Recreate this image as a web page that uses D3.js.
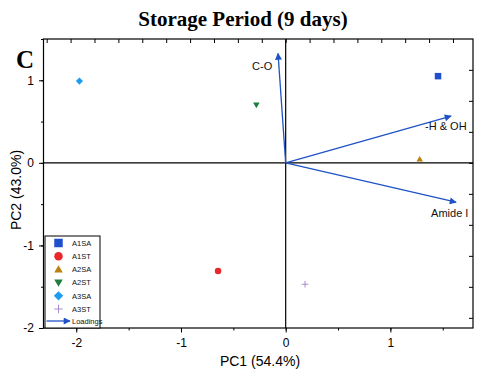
<!DOCTYPE html>
<html>
<head>
<meta charset="utf-8">
<script src="https://cdn.jsdelivr.net/npm/d3@7"></script>
<style>
  body { margin: 0; background: #fff; }
  svg { display: block; }
</style>
</head>
<body>
<div class="chart"></div>
<script>
// DATA ------------------------------
const sampleNames = ["A1SA", "A1ST", "A2SA", "A2ST", "A3SA", "A3ST"];
const pc1Scores = [1.455, -0.646, 1.28, -0.28, -1.97, 0.185];
const pc2Scores = [1.05, -1.31, 0.045, 0.70, 0.99, -1.47];
const sampleColors = ["#1f4fcc", "#e8282b", "#b8820c", "#1c7f3c", "#1e9cf2", "#a88ccc"];
const sampleShapes = ["square", "circle", "triangle", "triangleDown", "diamond", "plus"];

const loadingNames = ["C-O", "-H & OH", "Amide I"];
const loadingPC1 = [-0.032, 0.692, 0.713];
const loadingPC2 = [0.353, 0.151, -0.127];

const xTicks = [-2, -1, 0, 1];
const yTicks = [-2, -1, 0, 1];

// CHART INIT ------------------------
const W = 480, H = 373;
const plot = {left: 43.5, right: 473, top: 39, bottom: 328};

const svg = d3.select(".chart").append("svg")
    .attr("width", W).attr("height", H);

const xScale = d3.scaleLinear().domain([-2.313, 1.789]).range([plot.left, plot.right]);
const yScale = d3.scaleLinear().domain([-2, 1.5]).range([plot.bottom, plot.top]);
// loadings are drawn on their own (top / right) axes
const xLoad = d3.scaleLinear().domain([0, 0.1]).range([xScale(0), xScale(0) + 23.9]);
const yLoad = d3.scaleLinear().domain([0, 0.1]).range([yScale(0), yScale(0) - 31]);

const axisFont = "Liberation Sans, Arial, sans-serif";
const fmt = d => String(d); // plain hyphen minus like the original

// bottom axis
const halfX = d3.range(-2, 2, 0.5);
svg.append("g")
    .attr("transform", `translate(0,${plot.bottom})`)
    .call(d3.axisBottom(xScale).tickValues(halfX).tickSize(2.5).tickFormat(""))
    .call(g => g.select(".domain").remove());
svg.append("g")
    .attr("transform", `translate(0,${plot.bottom})`)
    .call(d3.axisBottom(xScale).tickValues(xTicks).tickSize(4.5).tickPadding(6).tickFormat(fmt))
    .call(g => g.select(".domain").remove())
    .selectAll("text").attr("font-size", 12).attr("font-family", axisFont).attr("fill", "#000");

// left axis
const halfY = d3.range(-2, 1.6, 0.5);
svg.append("g")
    .attr("transform", `translate(${plot.left},0)`)
    .call(d3.axisLeft(yScale).tickValues(halfY).tickSize(2.5).tickFormat(""))
    .call(g => g.select(".domain").remove());
svg.append("g")
    .attr("transform", `translate(${plot.left},0)`)
    .call(d3.axisLeft(yScale).tickValues(yTicks).tickSize(4.5).tickPadding(5).tickFormat(fmt))
    .call(g => g.select(".domain").remove())
    .selectAll("text").attr("font-size", 12).attr("font-family", axisFont).attr("fill", "#000");

// top axis (loadings, inward ticks)
const topTicks = d3.range(-1.0, 0.8, 0.1).map(v => +v.toFixed(1))
    .filter(v => xLoad(v) > plot.left + 2 && xLoad(v) < plot.right - 2);
svg.append("g")
    .attr("transform", `translate(0,${plot.top})`)
    .call(d3.axisBottom(xLoad).tickValues(topTicks).tickSize(4).tickFormat(""))
    .call(g => g.select(".domain").remove());

// right axis (loadings, inward ticks)
const rightTicks = d3.range(-0.6, 0.5, 0.1).map(v => +v.toFixed(1))
    .filter(v => yLoad(v) > plot.top + 2 && yLoad(v) < plot.bottom - 2);
svg.append("g")
    .attr("transform", `translate(${plot.right},0)`)
    .call(d3.axisLeft(yLoad).tickValues(rightTicks).tickSize(4).tickFormat(""))
    .call(g => g.select(".domain").remove());

svg.selectAll(".tick line").attr("stroke", "#000").attr("stroke-width", 1);

// frame
svg.append("rect")
    .attr("x", plot.left).attr("y", plot.top)
    .attr("width", plot.right - plot.left).attr("height", plot.bottom - plot.top)
    .attr("fill", "none").attr("stroke", "#000").attr("stroke-width", 1.2);

// zero lines
svg.append("line")
    .attr("x1", xScale(0)).attr("x2", xScale(0))
    .attr("y1", plot.top).attr("y2", plot.bottom)
    .attr("stroke", "#000").attr("stroke-width", 1.2);
svg.append("line")
    .attr("x1", plot.left).attr("x2", plot.right)
    .attr("y1", yScale(0)).attr("y2", yScale(0))
    .attr("stroke", "#000").attr("stroke-width", 1.2);

// arrow head
svg.append("defs").append("marker")
    .attr("id", "head")
    .attr("viewBox", "0 0 10 10")
    .attr("refX", 9).attr("refY", 5)
    .attr("markerWidth", 11).attr("markerHeight", 7)
    .attr("markerUnits", "userSpaceOnUse")
    .attr("orient", "auto")
    .append("path").attr("d", "M0,0 L10,5 L0,10 Z").attr("fill", "#1f52c4");

// loadings
const loadings = loadingNames.map((n, i) => ({name: n, x: loadingPC1[i], y: loadingPC2[i]}));
svg.selectAll(".loading")
    .data(loadings).enter()
    .append("line")
    .attr("class", "loading")
    .attr("x1", xLoad(0)).attr("y1", yLoad(0))
    .attr("x2", d => xLoad(d.x)).attr("y2", d => yLoad(d.y))
    .attr("stroke", "#1f52c4").attr("stroke-width", 1.3)
    .attr("marker-end", "url(#head)");

const labelOffsets = [[-26, 17], [-26, 14], [-25, 15]];
svg.selectAll(".loading-label")
    .data(loadings).enter()
    .append("text")
    .attr("x", (d, i) => xLoad(d.x) + labelOffsets[i][0])
    .attr("y", (d, i) => yLoad(d.y) + labelOffsets[i][1])
    .attr("font-size", 11).attr("font-family", axisFont).attr("fill", "#111")
    .text(d => d.name);

// symbols
function symbolPath(shape, s) {
  const h = s / 2;
  switch (shape) {
    case "square": return `M${-h},${-h}h${s}v${s}h${-s}Z`;
    case "circle": return `M${-h},0a${h},${h} 0 1,0 ${s},0a${h},${h} 0 1,0 ${-s},0Z`;
    case "triangle": return `M0,${-h}L${h},${h * 0.75}L${-h},${h * 0.75}Z`;
    case "triangleDown": return `M0,${h}L${h},${-h * 0.75}L${-h},${-h * 0.75}Z`;
    case "diamond": return `M0,${-h * 1.1}L${h * 1.1},0L0,${h * 1.1}L${-h * 1.1},0Z`;
    case "plus": return `M${-h},0H${h}M0,${-h}V${h}`;
  }
}
function drawSymbol(g, shape, color, s) {
  const p = g.append("path").attr("d", symbolPath(shape, s));
  if (shape === "plus") p.attr("fill", "none").attr("stroke", color).attr("stroke-width", 1);
  else p.attr("fill", color);
}

const samples = sampleNames.map((n, i) => ({name: n, x: pc1Scores[i], y: pc2Scores[i], c: sampleColors[i], s: sampleShapes[i]}));
samples.forEach(d => {
  const g = svg.append("g").attr("transform", `translate(${xScale(d.x)},${yScale(d.y)})`);
  drawSymbol(g, d.s, d.c, 6.5);
});

// legend
const leg = svg.append("g").attr("transform", "translate(45,236)");
leg.append("rect").attr("width", 55).attr("height", plot.bottom - 236)
    .attr("fill", "#fff").attr("stroke", "#000").attr("stroke-width", 1);
samples.forEach((d, i) => {
  const gy = 7 + i * 13.2;
  const g = leg.append("g").attr("transform", `translate(13.5,${gy})`);
  drawSymbol(g, d.s, d.c, 8.5);
  leg.append("text").attr("x", 27).attr("y", gy + 2.7)
      .attr("font-size", 7.5).attr("font-family", axisFont).attr("fill", "#111")
      .text(d.name);
});
leg.append("line")
    .attr("x1", 1.5).attr("x2", 25).attr("y1", 85).attr("y2", 85)
    .attr("stroke", "#1f52c4").attr("stroke-width", 1.3)
    .attr("marker-end", "url(#head)");
leg.append("text").attr("x", 27).attr("y", 87.7)
    .attr("font-size", 7.5).attr("font-family", axisFont).attr("fill", "#111")
    .text("Loadings");

// titles
svg.append("text")
    .attr("x", 243).attr("y", 26)
    .attr("text-anchor", "middle")
    .attr("font-family", "Liberation Serif, Times New Roman, serif")
    .attr("font-weight", "bold").attr("font-size", 21)
    .text("Storage Period (9 days)");
svg.append("text")
    .attr("x", 16).attr("y", 68)
    .attr("font-family", "Liberation Serif, Times New Roman, serif")
    .attr("font-weight", "bold").attr("font-size", 25)
    .text("C");
svg.append("text")
    .attr("x", 260).attr("y", 366)
    .attr("text-anchor", "middle")
    .attr("font-family", axisFont).attr("font-size", 14)
    .text("PC1 (54.4%)");
svg.append("text")
    .attr("transform", "translate(21,190) rotate(-90)")
    .attr("text-anchor", "middle")
    .attr("font-family", axisFont).attr("font-size", 14)
    .text("PC2 (43.0%)");
</script>
</body>
</html>
